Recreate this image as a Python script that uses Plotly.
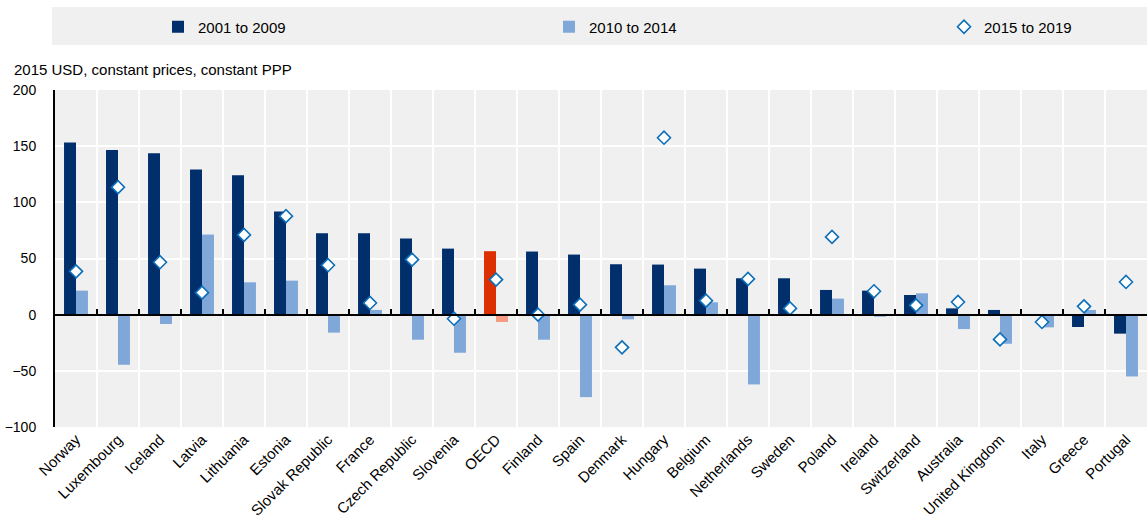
import plotly.graph_objects as go

categories = ["Norway", "Luxembourg", "Iceland", "Latvia", "Lithuania", "Estonia",
              "Slovak Republic", "France", "Czech Republic", "Slovenia", "OECD",
              "Finland", "Spain", "Denmark", "Hungary", "Belgium", "Netherlands",
              "Sweden", "Poland", "Ireland", "Switzerland", "Australia",
              "United Kingdom", "Italy", "Greece", "Portugal"]

v_2001_2009 = [153.3, 146.5, 143.8, 129.3, 124.2, 91.8, 72.5, 72.5, 67.8, 58.8,
               56.5, 56.2, 53.5, 44.9, 44.6, 41.0, 32.4, 32.4, 22.0, 21.4,
               17.5, 5.6, 4.2, 0.3, -11.0, -16.9]
v_2010_2014 = [21.4, -44.6, -8.3, 71.3, 28.8, 30.3, -16.0, 4.2, -22.3, -33.9,
               -6.5, -22.3, -73.4, -4.2, 26.2, 11.0, -62.1, 0.5, 14.3, -1.8,
               19.0, -12.8, -25.9, -11.3, 4.2, -55.0]
v_2015_2019 = [38.6, 113.5, 46.7, 19.6, 71.0, 87.7, 44.0, 10.4, 49.0, -3.6,
               31.2, 0.0, 8.9, -29.1, 157.5, 12.5, 31.8, 5.6, 69.2, 20.8,
               8.3, 11.3, -22.0, -6.5, 7.4, 29.1]

series_names = ["2001 to 2009", "2010 to 2014", "2015 to 2019"]
y_ticks = [-100, -50, 0, 50, 100, 150, 200]
y_title = "2015 USD, constant prices, constant PPP"

DARK = "#002F6C"
LIGHT = "#7FA8D9"
RED = "#DC2F02"
SALMON = "#F59B82"
DIAM = "#0B6FBA"
BG = "#F0F0F0"
FONT = "Liberation Sans, Arial, sans-serif"

W, H = 1147, 520
ML, MR, MT, MB = 55, 0, 90, 93
PW = W - ML - MR
PH = H - MT - MB

dark_colors = [RED if c == "OECD" else DARK for c in categories]
light_colors = [SALMON if c == "OECD" else LIGHT for c in categories]

fig = go.Figure()
fig.add_trace(go.Bar(x=categories, y=v_2001_2009, name=series_names[0], legend="legend",
                     marker=dict(color=dark_colors, line=dict(width=0))))
fig.add_trace(go.Bar(x=categories, y=v_2010_2014, name=series_names[1], legend="legend2",
                     marker=dict(color=light_colors, line=dict(width=0))))
fig.add_trace(go.Scatter(x=categories, y=v_2015_2019, name=series_names[2], mode="markers",
                         legend="legend3",
                         marker=dict(symbol="diamond", size=10, color="white",
                                     line=dict(color=DIAM, width=1.6))))
# helper trace for the zero-line axis with boundary ticks
fig.add_trace(go.Scatter(x=categories, y=[0] * len(categories), xaxis="x2", mode="markers",
                         marker=dict(opacity=0), showlegend=False, hoverinfo="skip"))


def leg(px_text):
    return dict(orientation="h", x=(px_text - 41 - ML) / PW, xanchor="left",
                y=1 + (MT - 27) / PH, yanchor="middle",
                bgcolor="rgba(0,0,0,0)", font=dict(size=15, family=FONT))


fig.update_layout(
    width=W, height=H,
    margin=dict(l=ML, r=MR, t=MT, b=MB, autoexpand=False),
    paper_bgcolor="white", plot_bgcolor=BG,
    font=dict(family=FONT, size=14, color="#000"),
    barmode="group", bargap=0.43, bargroupgap=0,
    showlegend=True,
    legend=leg(199), legend2=leg(590), legend3=leg(985),
    xaxis=dict(type="category", tickson="boundaries", showgrid=True, gridcolor="white",
               gridwidth=2, ticks="", tickangle=-45, tickfont=dict(size=15),
               showline=False, automargin=False, range=[-0.5, len(categories) - 0.5]),
    xaxis2=dict(type="category", overlaying="x", anchor="free", position=1 / 3,
                side="bottom", tickson="boundaries", ticks="inside", ticklen=5,
                tickwidth=2, tickcolor="black", showticklabels=False, showgrid=False,
                showline=True, linecolor="black", linewidth=2, automargin=False,
                range=[-0.5, len(categories) - 0.5]),
    yaxis=dict(range=[-100, 200], tickvals=y_ticks, showgrid=True, gridcolor="white",
               gridwidth=2, zeroline=False, showline=True, linecolor="black",
               linewidth=2, ticks="", ticklabelstandoff=14, tickfont=dict(size=14),
               automargin=False),
    shapes=[dict(type="rect", xref="paper", yref="paper", x0=-3 / PW, x1=1,
                 y0=1 + (MT - 45) / PH, y1=1 + (MT - 7) / PH,
                 fillcolor=BG, line=dict(width=0), layer="below")],
    annotations=[dict(text=y_title, xref="paper", yref="paper",
                      x=(12 - ML) / PW, y=1 + (MT - 70) / PH, xanchor="left",
                      yanchor="middle", showarrow=False, font=dict(size=15))],
)

fig.write_html("out.html", config={"displayModeBar": False},
               post_script="document.body.style.margin='0';document.body.style.overflow='hidden';")
